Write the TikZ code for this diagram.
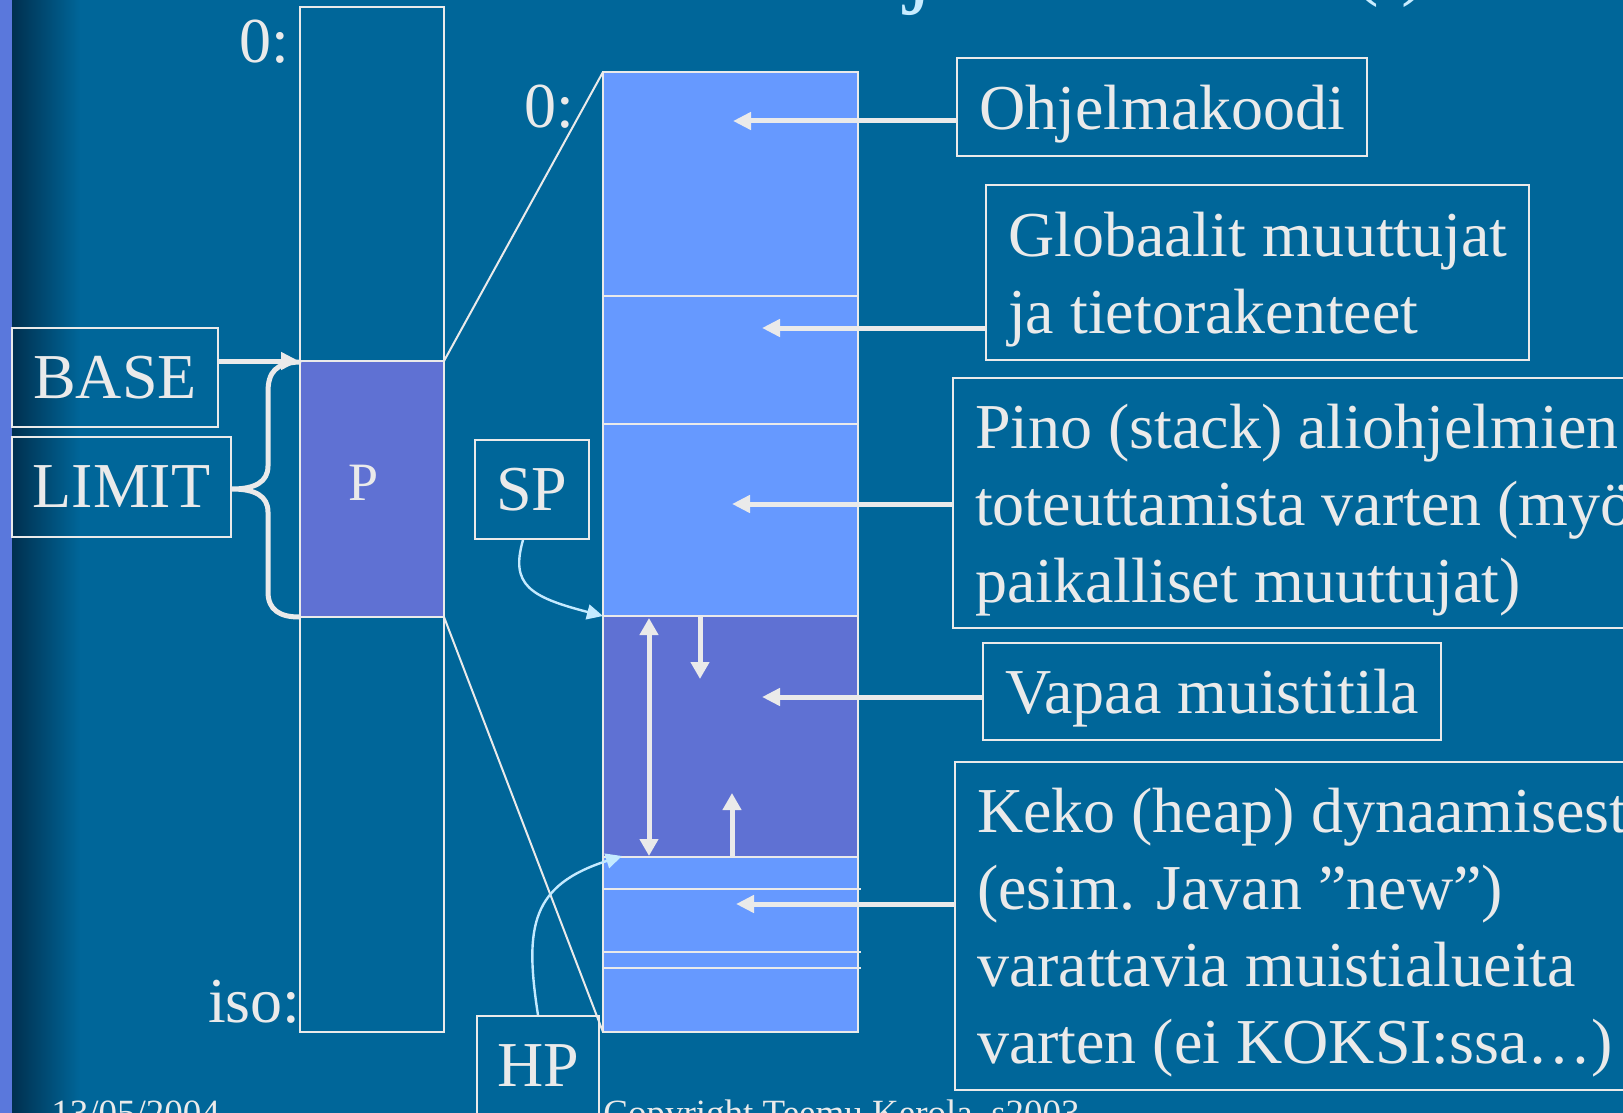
\documentclass[tikz,border=0pt]{standalone}
\usepackage{fontspec}
\setmainfont{Liberation Serif}
\usetikzlibrary{arrows.meta}
\definecolor{bg}{HTML}{006699}
\definecolor{edgedark}{HTML}{00304F}
\definecolor{strip}{HTML}{5A78DC}
\definecolor{ln}{HTML}{EAEAEA}
\definecolor{lightblue}{HTML}{6699FF}
\definecolor{purp}{HTML}{5F71D3}
\definecolor{cyanln}{HTML}{C4EAFF}
\definecolor{titlec}{HTML}{C8ECFF}
\newcommand\topfix{\rule{0pt}{29.3pt}}
\tikzset{
  body/.style={font=\fontsize{32pt}{38.5pt}\selectfont},
  lbl/.style={body, text=ln, inner sep=0pt},
  tbox/.style={body, draw=ln, line width=1pt, text=ln, align=left, inner xsep=11pt, inner ysep=0pt, anchor=north west},
  rbox/.style={body, draw=ln, line width=1pt, text=ln, inner sep=0pt},
  thin/.style={draw=ln, line width=1pt},
  bigarrow/.style={draw=ln, line width=2.5pt, -{Triangle[length=9pt,width=8.5pt]}},
  midarrow/.style={draw=ln, line width=2.5pt, -{Triangle[length=8.5pt,width=9pt]}},
  dblarrow/.style={draw=ln, line width=2.5pt, {Triangle[length=8.5pt,width=9pt]}-{Triangle[length=8.5pt,width=9pt]}},
  ptrarrow/.style={draw=cyanln, line width=1.2pt, -{Triangle[length=8pt,width=7.5pt]}},
  foot/.style={text=ln, inner sep=0pt, anchor=base west, font=\fontsize{18.5pt}{21pt}\selectfont},
}
\begin{document}
\begin{tikzpicture}[x=0.5pt,y=-0.5pt]
\useasboundingbox (0,0) rectangle (1623,1113);
\clip (0,0) rectangle (1623,1113);
% background
\fill[bg] (0,0) rectangle (1623,1113);
\shade[left color=edgedark, right color=bg] (12,0) rectangle (80,1113);
\fill[strip] (0,0) rectangle (12,1113);

% title fragments (cut off at top)
\node[font=\fontsize{49.5pt}{55pt}\selectfont, text=titlec, inner sep=0pt, anchor=base west] (titlej) at (905,-5) {j};
\node[font=\fontsize{40pt}{46pt}\selectfont, text=titlec, inner sep=0pt, anchor=base west] (titlep) at (1352,-9) {(\phantom{i})};

% left memory bar
\fill[purp] (300,361) rectangle (444,617);
\draw[thin] (300,7) rectangle (444,1032);
\draw[thin] (300,361) -- (444,361);
\draw[thin] (300,617) -- (444,617);
\node[text=ln, inner sep=0pt, font=\fontsize{27pt}{30pt}\selectfont] (plbl) at (364,483) {P};
\node[lbl, anchor=base east] (zeroA) at (290,63) {0:};
\node[lbl, anchor=base east] (iso) at (301,1022) {iso:};

\coordinate (ptop) at (444,361);
\coordinate (pbot) at (444,617);
\coordinate (pleft) at (299,361);

% process memory stack
\fill[lightblue] (603,72) rectangle (858,1032);
\fill[purp] (603,616) rectangle (858,857);
\draw[thin] (603,72) rectangle (858,1032);
\foreach \yy in {296,424,616,857} \draw[thin] (603,\yy) -- (858,\yy);
\foreach \yy in {889,952,968} \draw[thin] (603,\yy) -- (861,\yy);
\coordinate (stop) at (603,72);
\coordinate (sbot) at (603,1032);
\coordinate (spt) at (603,616);
\coordinate (hpt) at (622,856);
\node[lbl, anchor=base east] (zeroB) at (575,128) {0:};

% projection lines
\draw[thin] (ptop) -- (stop);
\draw[thin] (pbot) -- (sbot);

% BASE / LIMIT
\node[rbox, minimum width=103pt, minimum height=49.5pt] (base) at (115,377.5) {BASE};
\node[rbox, minimum width=109.5pt, minimum height=50pt] (limit) at (121.5,487) {LIMIT};
\draw[bigarrow] (base.east |- pleft) -- (pleft);
\draw[draw=ln, line width=2.5pt, line cap=round]
  (299,362) .. controls (276,363) and (268,372) .. (268,392) -- (268,466)
  .. controls (268,482) and (255,489) .. (limit.east |- 0,489)
  .. controls (255,489) and (268,496) .. (268,512) -- (268,592)
  .. controls (268,610) and (280,617) .. (299,617);

% SP / HP
\node[rbox, minimum width=57pt, minimum height=49.5pt] (sp) at (532,489.5) {SP};
\node[rbox, minimum width=61pt, minimum height=50pt] (hp) at (538,1066) {HP};
\draw[ptrarrow] ([xshift=-4.5pt]sp.south) .. controls (510,585) and (530,597) .. (spt);
\draw[ptrarrow] (hp.north) .. controls (524,925) and (532,885) .. (hpt);

% arrows inside free area
\draw[dblarrow] (649,618) -- (649,856);
\draw[midarrow] (700,617) -- (700,679);
\draw[midarrow] (732,857) -- (732,793);

% right label boxes
\node[tbox, minimum height=49pt] (ohj) at (956,57) {\topfix Ohjelmakoodi};
\node[tbox, minimum height=87.5pt] (glob) at (985,184) {\topfix Globaalit muuttujat\\ja tietorakenteet};
\node[tbox, minimum height=125pt] (pino) at (952,377) {\topfix Pino (stack) aliohjelmien\\toteuttamista varten (myös\\paikalliset muuttujat)};
\node[tbox, minimum height=48.5pt] (vapaa) at (982,642) {\topfix Vapaa muistitila};
\node[tbox, minimum height=164pt] (keko) at (954,761) {\topfix Keko (heap) dynaamisesti\\(esim. Javan ”new”)\\varattavia muistialueita\\varten (ei KOKSI:ssa…)};

\coordinate (tA) at (733,121);
\coordinate (tB) at (762,328);
\coordinate (tC) at (732,504);
\coordinate (tD) at (762,697);
\coordinate (tE) at (736,904);
\draw[bigarrow] (ohj.west |- tA) -- (tA);
\draw[bigarrow] (glob.west |- tB) -- (tB);
\draw[bigarrow] (pino.west |- tC) -- (tC);
\draw[bigarrow] (vapaa.west |- tD) -- (tD);
\draw[bigarrow] (keko.west |- tE) -- (tE);

% footer (cut off at bottom)
\node[foot] (date) at (51,1125) {13/05/2004};
\node[foot] (copy) at (603,1125) {Copyright Teemu Kerola, s2003};
\end{tikzpicture}
\end{document}
